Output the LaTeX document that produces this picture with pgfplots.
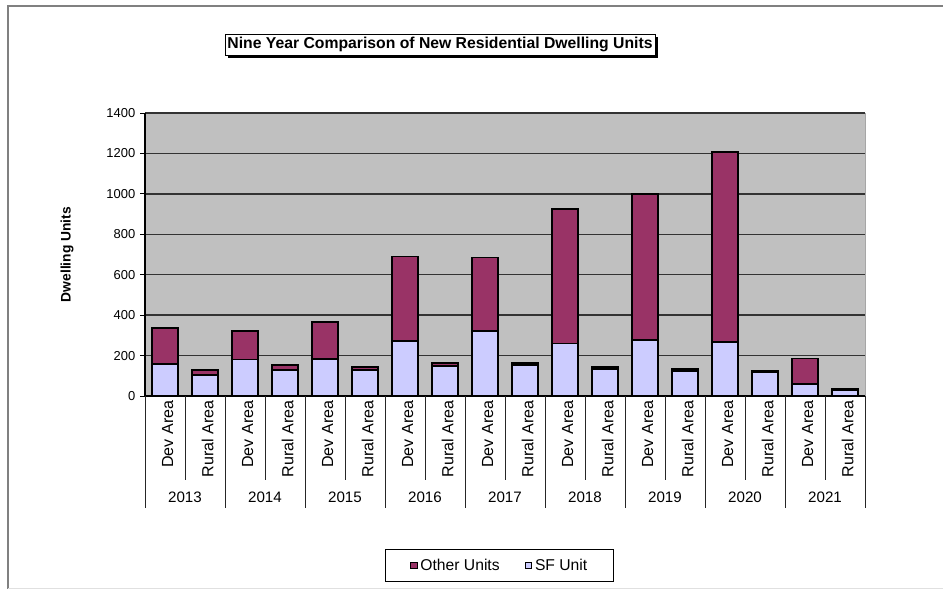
\documentclass[border=0pt]{standalone}
\usepackage{pgfplots}
\usepackage{pgfplotstable}
\pgfplotsset{compat=1.18}
\usepackage{fontspec}
\setmainfont{Liberation Sans}
\usetikzlibrary{shadows}

\definecolor{otherunits}{HTML}{993366}
\definecolor{sfunit}{HTML}{CCCCFF}
\definecolor{plotbg}{HTML}{C0C0C0}
\definecolor{gridcol}{HTML}{333333}

% idx: category position (Dev Area / Rural Area for 2013 ... 2021)
\pgfplotstableread{
idx sf  other
0   157 179
1   104 24
2   180 141
3   127 25
4   183 184
5   127 16
6   272 418
7   148 15
8   321 364
9   152 11
10  260 666
11  132 13
12  277 721
13  125 8
14  269 939
15  117 8
16  61  124
17  28  8
}\dwellings

\begin{document}
\begin{tikzpicture}
% page frame, in pixel-like units with the origin at the top left
\begin{scope}[x=0.75bp,y=-0.75bp]
  \path[use as bounding box] (0,0) rectangle (943,589);
  \draw[line width=1.5bp, color=black!50] (8,589) -- (8,6) -- (943,6);
  \draw[line width=0.75bp, color=black!12] (8,588) -- (943,588);
  % chart title with a hard shadow
  \node[draw=black, line width=0.75bp, fill=white,
        drop shadow={shadow xshift=2bp, shadow yshift=-2bp, opacity=1, fill=black},
        minimum width=322.5bp, minimum height=15.75bp, inner sep=0pt,
        font=\bfseries\fontsize{11.85}{13}\selectfont]
    at (440,44.5) {Nine Year Comparison of New Residential Dwelling Units};
\end{scope}

\begin{axis}[
  at={(108.75bp,-297bp)}, anchor=south west,
  scale only axis, width=540bp, height=212.25bp,
  ybar stacked, bar width=0.667,
  xmin=-0.5, xmax=17.5, ymin=0, ymax=1400,
  axis background/.style={fill=plotbg, draw=black!35, line width=0.75bp},
  axis x line*=bottom, axis y line*=left,
  axis line style={-, black, line width=1bp},
  ymajorgrids, major grid style={gridcol, line width=1.15bp},
  ytick={0,200,...,1400},
  ytick align=outside, major tick length=3.75bp,
  ytick style={black, line width=0.75bp},
  xtick={0,...,17}, xtick style={draw=none},
  xticklabels={Dev Area, Rural Area, Dev Area, Rural Area, Dev Area, Rural Area,
               Dev Area, Rural Area, Dev Area, Rural Area, Dev Area, Rural Area,
               Dev Area, Rural Area, Dev Area, Rural Area, Dev Area, Rural Area},
  xticklabel style={rotate=90, anchor=east, yshift=-2bp,
    font=\fontsize{12.1}{13}\selectfont},
  yticklabel style={font=\fontsize{9.75}{11}\selectfont},
  /pgf/number format/assume math mode=true,
  /pgf/number format/1000 sep={},
  ylabel={Dwelling Units},
  every axis y label/.style={at={(rel axis cs:0,0.5)}, xshift=-58.5bp, rotate=90,
    anchor=center, font=\bfseries\fontsize{10.4}{12}\selectfont},
  legend style={at={(0.4924,0)}, anchor=center, yshift=-127.1bp,
    draw=black, line width=0.75bp, legend columns=2,
    font=\fontsize{11.8}{13}\selectfont,
    inner xsep=18.5bp, inner ysep=5.8bp,
    nodes={inner sep=1bp},
    /tikz/every odd column/.append style={column sep=1bp},
    /tikz/every even column/.append style={column sep=18bp}},
  legend image code/.code={\draw[#1, line width=0.7bp] (0bp,-2.4bp) rectangle (4.8bp,2.4bp);},
  reverse legend,
]
\addplot[fill=sfunit, draw=black, line width=1.3bp] table[x=idx, y=sf] {\dwellings};
\addlegendentry{SF Unit}
\addplot[fill=otherunits, draw=black, line width=1.3bp] table[x=idx, y=other] {\dwellings};
\addlegendentry{Other Units}
\end{axis}

% category separators and year labels under the axis
\begin{scope}[x=0.75bp,y=-0.75bp]
  \foreach \k in {0,...,9}
    \draw[line width=0.75bp, black!85] (145+80*\k,396) -- (145+80*\k,508);
  \foreach \k in {0,...,8}
    \draw[line width=0.75bp, black!85] (185+80*\k,396) -- (185+80*\k,480);
  \foreach \k in {0,...,8} {
    \pgfmathtruncatemacro{\yr}{2013+\k}
    \node[font=\fontsize{11.4}{13}\selectfont] at (185+80*\k,497) {\yr};
  }
\end{scope}
\end{tikzpicture}
\end{document}
